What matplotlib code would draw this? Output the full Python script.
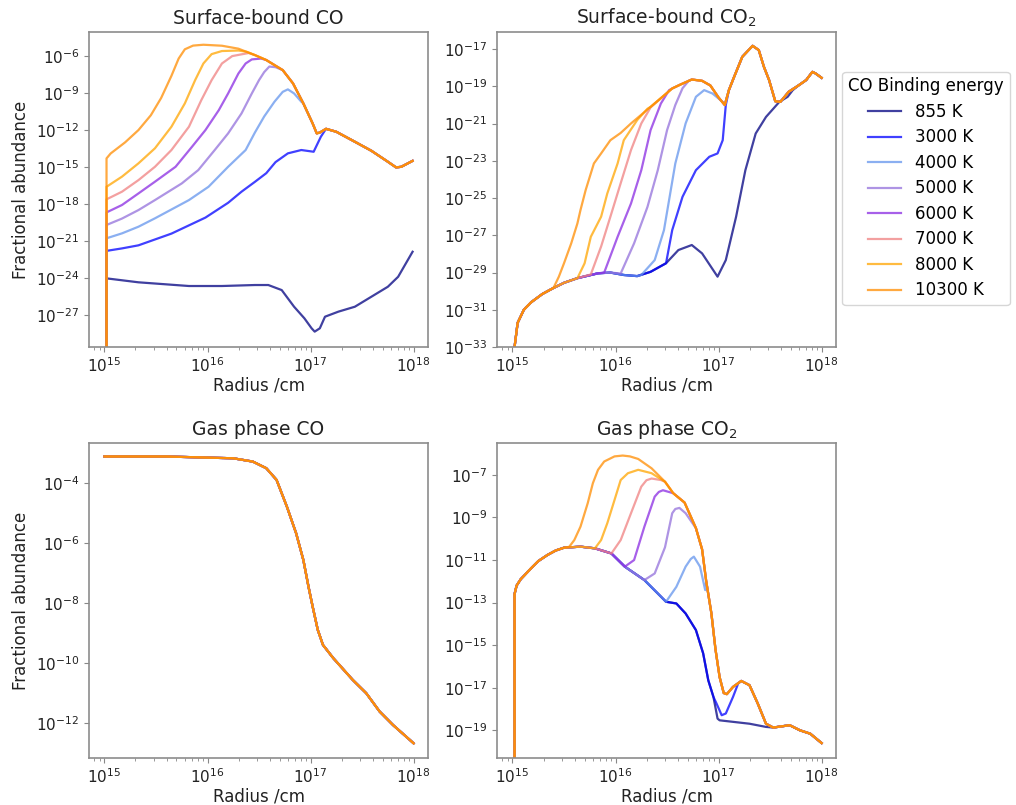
import numpy as np
import matplotlib.pyplot as plt
from matplotlib.ticker import NullLocator, LogLocator

energies = ['855 K', '3000 K', '4000 K', '5000 K', '6000 K', '7000 K', '8000 K', '10300 K']
colours = ['navy', 'blue', 'cornflowerblue', 'mediumpurple', 'blueviolet',
           'lightcoral', 'orange', 'darkorange']

# all values are (log10 radius/cm, log10 fractional abundance)

# ---- Surface-bound CO ----
sco_10300 = [(15.02, -40), (15.02, -14.3), (15.06, -13.9), (15.2, -13.0), (15.33, -12.0),
             (15.45, -10.8), (15.55, -9.4), (15.65, -7.6), (15.72, -6.2), (15.78, -5.45),
             (15.86, -5.15), (15.96, -5.08), (16.14, -5.16), (16.30, -5.4), (16.46, -5.92),
             (16.57, -6.32), (16.73, -7.14), (16.83, -8.22), (16.93, -9.84), (17.02, -11.46),
             (17.06, -12.27), (17.09, -12.2), (17.15, -11.9), (17.25, -12.14), (17.43, -12.95),
             (17.59, -13.68), (17.75, -14.57), (17.83, -15.03), (17.88, -14.98), (17.99, -14.5)]
sco_8000 = [(15.02, -40), (15.02, -16.6), (15.17, -15.78), (15.33, -14.7), (15.49, -13.48),
            (15.65, -11.73), (15.78, -9.84), (15.88, -7.95), (15.96, -6.6), (16.04, -5.84),
            (16.14, -5.59), (16.30, -5.55), (16.38, -5.65)]
sco_7000 = [(15.02, -40), (15.02, -17.62), (15.17, -17.0), (15.33, -16.06), (15.49, -14.98),
            (15.65, -13.62), (15.82, -11.73), (15.94, -9.57), (16.04, -7.95), (16.14, -6.6),
            (16.24, -6.0), (16.40, -5.75)]
sco_6000 = [(15.02, -40), (15.02, -18.68), (15.17, -18.08), (15.33, -17.14), (15.49, -16.19),
            (15.69, -14.98), (15.85, -13.35), (15.98, -12.0), (16.11, -10.38), (16.20, -9.03),
            (16.30, -7.41), (16.37, -6.6), (16.43, -6.27), (16.52, -6.2)]
sco_5000 = [(15.02, -40), (15.02, -19.7), (15.17, -19.18), (15.33, -18.49), (15.49, -17.68),
            (15.75, -16.33), (15.91, -15.25), (16.07, -13.62), (16.20, -12.27), (16.33, -10.65),
            (16.43, -9.03), (16.50, -7.95), (16.55, -7.3), (16.60, -6.85), (16.66, -6.9)]
sco_4000 = [(15.02, -40), (15.02, -20.78), (15.17, -20.38), (15.33, -19.84), (15.49, -19.16),
            (15.82, -17.68), (16.01, -16.6), (16.20, -14.98), (16.37, -13.62), (16.46, -12.2),
            (16.55, -10.9), (16.65, -9.7), (16.73, -8.9), (16.78, -8.7), (16.84, -9.03),
            (16.91, -9.7)]
sco_3000 = [(15.02, -40), (15.02, -21.8), (15.17, -21.6), (15.33, -21.35), (15.65, -20.4),
            (15.98, -19.1), (16.20, -17.9), (16.33, -17.0), (16.46, -16.2), (16.57, -15.5),
            (16.66, -14.6), (16.78, -13.89), (16.91, -13.62), (17.03, -13.76), (17.10, -12.54)]
sco_855 = [(15.02, -40), (15.02, -24.03), (15.33, -24.35), (15.82, -24.65), (16.14, -24.65),
           (16.46, -24.57), (16.59, -24.57), (16.72, -24.98), (16.84, -26.33), (16.94, -27.27),
           (17.01, -28.08), (17.04, -28.35), (17.09, -28.08), (17.14, -27.14), (17.27, -26.73),
           (17.43, -26.33), (17.59, -25.52), (17.75, -24.71), (17.85, -23.9), (17.99, -21.87)]

# ---- Surface-bound CO2 ----
sco2_base = [(15.02, -33.5), (15.02, -33), (15.05, -31.7), (15.11, -31.0), (15.18, -30.6),
             (15.29, -30.15), (15.39, -29.85), (15.50, -29.55), (15.63, -29.3), (15.83, -29.04),
             (15.95, -29.0), (16.08, -29.13), (16.21, -29.19), (16.34, -28.96), (16.49, -28.5)]
sco2_10300 = [(15.40, -29.8), (15.45, -29.22), (15.50, -28.5), (15.57, -27.43), (15.63, -26.36),
              (15.66, -25.64), (15.71, -24.57), (15.79, -23.14), (15.86, -22.6), (15.95, -21.89),
              (16.05, -21.5), (16.15, -20.99), (16.34, -20.1), (16.55, -19.11),
              (16.63, -18.9), (16.74, -18.63), (16.84, -18.7), (16.92, -18.95), (17.00, -19.6),
              (17.06, -20.0), (17.10, -19.2), (17.15, -18.5), (17.23, -17.41), (17.33, -16.82),
              (17.39, -17.05), (17.44, -17.95), (17.49, -18.66), (17.55, -19.8), (17.60, -19.83),
              (17.68, -19.29), (17.78, -18.93), (17.85, -18.66), (17.91, -18.22), (17.94, -18.3),
              (18.0, -18.54)]
sco2_8000 = [(15.63, -29.3), (15.70, -28.5), (15.76, -27.08), (15.86, -26.0), (15.92, -24.75),
             (16.02, -23.14), (16.08, -21.89), (16.21, -20.81), (16.31, -20.2)]
sco2_7000 = [(15.76, -29.1), (15.86, -27.6), (15.95, -26.0), (16.05, -24.2), (16.15, -22.42),
             (16.25, -20.99), (16.34, -20.13)]
sco2_6000 = [(15.89, -29.0), (16.02, -27.08), (16.15, -25.29), (16.25, -23.5), (16.34, -21.35),
             (16.44, -19.92), (16.52, -19.2)]
sco2_5000 = [(16.05, -29.05), (16.18, -27.43), (16.31, -25.47), (16.41, -23.5), (16.50, -21.35),
             (16.58, -20.0), (16.65, -19.1), (16.71, -18.7)]
sco2_4000 = [(16.25, -29.13), (16.38, -28.33), (16.47, -26.72), (16.58, -23.14), (16.68, -20.99),
             (16.78, -19.56), (16.86, -19.2), (16.94, -19.38), (17.04, -19.83)]
sco2_3000 = [(16.49, -28.5), (16.55, -26.72), (16.65, -24.93), (16.78, -23.5), (16.91, -22.78),
             (16.99, -22.6), (17.04, -21.89), (17.07, -20.0)]
sco2_855 = [(16.49, -28.5), (16.61, -27.79), (16.74, -27.52), (16.84, -27.97), (16.99, -29.22),
            (17.07, -28.33), (17.17, -26.0), (17.26, -23.5), (17.36, -21.53), (17.46, -20.64),
            (17.59, -19.83), (17.67, -19.56), (17.72, -19.2)]

# ---- Gas phase CO (identical for every binding energy) ----
gco = [(15.0, -3.12), (15.6, -3.12), (16.25, -3.18), (16.44, -3.29), (16.57, -3.51),
       (16.67, -3.9), (16.77, -4.79), (16.86, -5.68), (16.93, -6.57), (16.98, -7.46),
       (17.02, -8.12), (17.07, -8.9), (17.12, -9.4), (17.22, -9.84), (17.41, -10.57),
       (17.54, -11.01), (17.67, -11.62), (17.80, -12.07), (18.0, -12.68)]

# ---- Gas phase CO2 ----
gco2_base = [(15.02, -21), (15.02, -12.6), (15.04, -12.2), (15.08, -11.9), (15.18, -11.39),
             (15.25, -11.05), (15.34, -10.76), (15.42, -10.55), (15.50, -10.42), (15.66, -10.37),
             (15.80, -10.45), (15.96, -10.69), (16.09, -11.31), (16.28, -11.94), (16.41, -12.57),
             (16.49, -12.96), (16.59, -13.04), (16.68, -13.51), (16.78, -14.29), (16.85, -15.38),
             (16.90, -16.65), (16.95, -17.43)]
gco2_10300 = [(15.55, -10.38), (15.60, -10.06), (15.66, -9.43), (15.73, -8.33), (15.78, -7.39),
              (15.83, -6.76), (15.89, -6.37), (15.99, -6.13), (16.07, -6.09), (16.14, -6.13),
              (16.22, -6.25), (16.35, -6.69), (16.48, -7.32), (16.56, -7.86), (16.67, -8.3),
              (16.78, -9.5), (16.84, -10.5), (16.88, -12.0), (16.93, -13.5), (16.97, -15.2),
              (17.01, -16.5), (17.05, -17.25), (17.08, -17.3), (17.14, -16.96), (17.22, -16.68),
              (17.30, -16.88), (17.38, -17.74), (17.46, -18.69), (17.53, -18.87), (17.69, -18.76),
              (17.79, -19.0), (17.89, -19.16), (18.0, -19.6)]
gco2_8000 = [(15.80, -10.45), (15.86, -10.06), (15.92, -9.27), (15.99, -8.18), (16.05, -7.24),
             (16.12, -6.92), (16.22, -6.76), (16.35, -6.92), (16.44, -7.2)]
gco2_7000 = [(15.96, -10.69), (16.05, -10.06), (16.15, -8.8), (16.25, -7.55), (16.30, -7.25),
             (16.35, -7.17), (16.44, -7.24)]
gco2_6000 = [(16.09, -11.31), (16.18, -11.0), (16.28, -9.43), (16.38, -8.02), (16.42, -7.8),
             (16.46, -7.72), (16.56, -7.86)]
gco2_5000 = [(16.28, -11.94), (16.38, -11.63), (16.48, -10.4), (16.55, -8.8), (16.58, -8.6),
             (16.62, -8.55), (16.68, -8.8)]
gco2_4000 = [(16.49, -12.96), (16.59, -12.26), (16.68, -11.31), (16.73, -10.95), (16.76, -10.84),
             (16.82, -11.31), (16.87, -12.41)]
gco2_3000 = [(16.95, -17.43), (16.98, -17.74), (17.03, -18.29), (17.07, -18.21), (17.14, -17.43),
             (17.19, -16.8)]
gco2_855 = [(16.95, -17.43), (16.99, -18.45), (17.01, -18.53), (17.30, -18.69), (17.46, -18.84)]


def build(branch, base=None, tail=None):
    pts = []
    if base is not None:
        pts += [p for p in base if p[0] < branch[0][0]]
    pts += branch
    if tail is not None:
        pts += [p for p in tail if p[0] > branch[-1][0]]
    r, y = np.array(pts).T
    return 10 ** r, 10 ** y


panels = [
    ('Surface-bound CO',
     [build(b, None, sco_10300) for b in [sco_855, sco_3000, sco_4000, sco_5000,
                                          sco_6000, sco_7000, sco_8000]] + [build(sco_10300)],
     (-29.6, -4.05), range(-6, -28, -3)),
    ('Surface-bound CO$_2$',
     [build(b, sco2_base, sco2_10300) for b in [sco2_855, sco2_3000, sco2_4000, sco2_5000,
                                                sco2_6000, sco2_7000, sco2_8000, sco2_10300]],
     (-33, -16.08), range(-17, -34, -2)),
    ('Gas phase CO', [build(gco)] * 8, (-13.17, -2.67), range(-4, -13, -2)),
    ('Gas phase CO$_2$',
     [build(b, gco2_base, gco2_10300) for b in [gco2_855, gco2_3000, gco2_4000, gco2_5000,
                                                gco2_6000, gco2_7000, gco2_8000, gco2_10300]],
     (-20.3, -5.5), range(-7, -20, -2)),
]

positions = [(0.0876, 0.5689), (0.4892, 0.5689), (0.0876, 0.0584), (0.4892, 0.0584)]

plt.rcParams['font.family'] = 'DejaVu Sans'
fig = plt.figure(figsize=(10.16, 8.05), dpi=100)

for i, (title, curves, ylim, yt) in enumerate(panels):
    ax = fig.add_axes([positions[i][0], positions[i][1], 0.3337, 0.3913])
    for (r, y), c, lab in zip(curves, colours, energies):
        ax.plot(r, y, color=c, alpha=0.75, lw=1.6, label=lab)
    ax.set_xscale('log')
    ax.set_yscale('log')
    ax.set_xlim(10 ** 14.85, 10 ** 18.14)
    ax.set_ylim(10 ** ylim[0], 10 ** ylim[1])
    ax.set_xticks([1e15, 1e16, 1e17, 1e18])
    ax.xaxis.set_minor_locator(LogLocator(base=10, subs=np.arange(2, 10)))
    ax.set_yticks([10.0 ** k for k in yt])
    ax.yaxis.set_minor_locator(NullLocator())
    ax.set_title(title, fontsize=13.5, color='#222222')
    ax.set_xlabel('Radius /cm', fontsize=12, color='#222222', labelpad=1)
    if i % 2 == 0:
        ax.set_ylabel('Fractional abundance', fontsize=12, color='#222222')
    ax.tick_params(labelsize=11, colors='#222222')
    ax.tick_params(which='both', color='#888888')
    for s in ax.spines.values():
        s.set_color('#8c8c8c')
        s.set_linewidth(1.2)
    if i == 1:
        handles, labels = ax.get_legend_handles_labels()

fig.legend(handles, labels, title='CO Binding energy', loc='upper left',
           bbox_to_anchor=(0.829, 0.911), borderaxespad=0, fontsize=12,
           title_fontsize=12, labelspacing=0.45, borderpad=0.35)

plt.savefig('out.png', dpi=100)
